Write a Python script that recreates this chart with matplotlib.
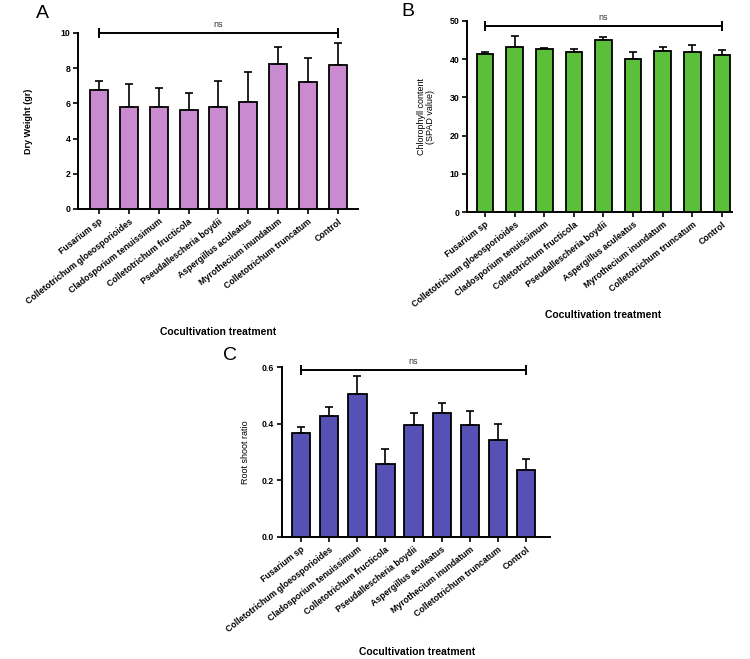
import matplotlib
matplotlib.use("Agg")
import matplotlib.pyplot as plt
import numpy as np

plt.rcParams["font.family"] = ["Liberation Sans", "DejaVu Sans"]

treatments = [
    "Fusarium sp",
    "Colletotrichum gloeosporioides",
    "Cladosporium tenuissimum",
    "Colletotrichum fructicola",
    "Pseudallescheria boydii",
    "Aspergillus aculeatus",
    "Myrothecium inundatum",
    "Colletotrichum truncatum",
    "Control",
]

# panel A: dry weight (mean, upper error bar)
dry_weight = [6.75, 5.8, 5.77, 5.6, 5.8, 6.08, 8.22, 7.2, 8.2]
dry_weight_err = [0.55, 1.32, 1.1, 0.97, 1.45, 1.73, 1.0, 1.38, 1.23]

# panel B: chlorophyll content (SPAD)
chlorophyll = [41.4, 43.3, 42.8, 41.9, 45.0, 40.0, 42.2, 41.9, 41.0]
chlorophyll_err = [0.5, 2.8, 0.2, 0.9, 0.8, 1.9, 0.9, 1.7, 1.4]

# panel C: root/shoot ratio
root_shoot = [0.367, 0.427, 0.504, 0.256, 0.395, 0.437, 0.396, 0.342, 0.237]
root_shoot_err = [0.02, 0.031, 0.063, 0.053, 0.043, 0.035, 0.05, 0.058, 0.037]

W, H = 750, 659


def px_axes(fig, left, top, right, bottom):
    return fig.add_axes([left / W, (H - bottom) / H, (right - left) / W, (bottom - top) / H])


def bar_panel(ax, vals, errs, color, yticks, ylabel, xlim, width, ns_y, ylab_x, xlab_pos, yl_weight="bold"):
    x = np.arange(len(vals))
    ax.bar(x, vals, width=width, color=color, edgecolor="black", linewidth=1.3, zorder=3)
    ax.errorbar(x, vals, yerr=[np.zeros(len(vals)), errs], fmt="none", ecolor="black",
                elinewidth=1.2, capsize=3.2, capthick=1.2, zorder=2)
    ax.set_xlim(*xlim)
    ax.set_ylim(yticks[0], yticks[-1])
    ax.set_yticks(yticks)
    ax.set_xticks(x)
    ax.set_xticklabels(treatments, rotation=38, ha="right", rotation_mode="anchor",
                       fontsize=6.3, fontweight="bold")
    for lab in ax.get_yticklabels():
        lab.set_fontweight("bold")
        lab.set_fontsize(6.3)
    for s in ["top", "right"]:
        ax.spines[s].set_visible(False)
    for s in ["left", "bottom"]:
        ax.spines[s].set_linewidth(1.4)
    ax.tick_params(width=1.2, length=3.5, pad=2)
    ax.set_ylabel(ylabel, fontsize=6.5, fontweight=yl_weight, linespacing=1.1)
    ax.yaxis.set_label_coords(ylab_x, 0.5)
    ax.set_xlabel("Cocultivation treatment", fontsize=7.5, fontweight="bold")
    ax.xaxis.set_label_coords(*xlab_pos)
    # ns bracket
    ax.plot([x[0], x[-1]], [ns_y, ns_y], color="black", lw=1.4, clip_on=False, zorder=4)
    ax.plot([x[0], x[-1]], [ns_y, ns_y], ls="none", marker="|", ms=7, mew=1.4,
            color="black", clip_on=False, zorder=4)
    ax.annotate("ns", (x.mean(), ns_y), xytext=(0, 3), textcoords="offset points",
                ha="center", va="bottom", fontsize=6.5, color="#333333", annotation_clip=False)


fig = plt.figure(figsize=(W / 100, H / 100), dpi=100)

axA = px_axes(fig, 78, 33, 358, 209)
bar_panel(axA, dry_weight, dry_weight_err, "#c98ad0", [0, 2, 4, 6, 8, 10], "Dry Weight (gr)",
          (-0.7, 8.67), 0.6, 10.0, -0.16, (0.5, -0.67))

axB = px_axes(fig, 467, 21, 732, 212)
bar_panel(axB, chlorophyll, chlorophyll_err, "#5cbf3a", [0, 10, 20, 30, 40, 50],
          "Chlorophyll content\n(SPAD value)", (-0.61, 8.34), 0.56, 48.6, -0.12, (0.513, -0.513),
          yl_weight="normal")

axC = px_axes(fig, 282, 367, 550, 537)
bar_panel(axC, root_shoot, root_shoot_err, "#5551b5", [0.0, 0.2, 0.4, 0.6], "Root shoot ratio",
          (-0.68, 8.85), 0.65, 0.588, -0.12, (0.504, -0.645), yl_weight="normal")
axC.set_yticklabels(["0.0", "0.2", "0.4", "0.6"], fontweight="bold", fontsize=6.3)

fig.text(42 / W, 1 - 13 / H, "A", fontsize=14, ha="center", va="center")
fig.text(408 / W, 1 - 12 / H, "B", fontsize=14, ha="center", va="center")
fig.text(230 / W, 1 - 355 / H, "C", fontsize=14, ha="center", va="center")

fig.savefig("out.png", dpi=100)
